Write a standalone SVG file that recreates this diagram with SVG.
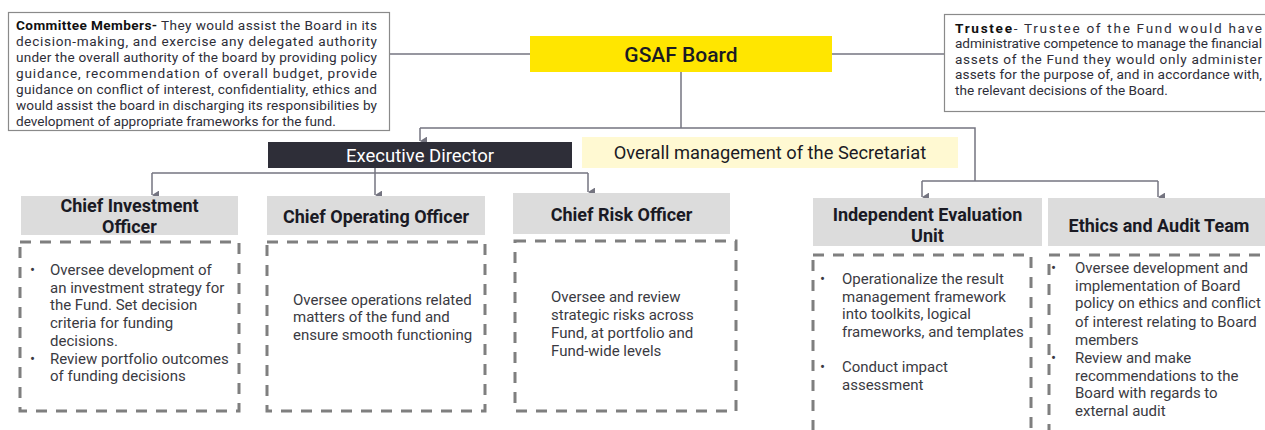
<svg xmlns="http://www.w3.org/2000/svg" width="1265" height="430" viewBox="0 0 1265 430">
<defs>
<marker id="arr" viewBox="0 0 10 8" refX="5" refY="8" markerWidth="9" markerHeight="7" orient="auto-start-reverse" markerUnits="userSpaceOnUse">
<path d="M0,0 L10,0 L5,8 Z" fill="#747480"/>
</marker>
<style>
.bg{fill:#fff}
.note{fill:#fff;stroke:#8a8a8a;stroke-width:1.2}
.ntxt{font-family:Roboto,"Liberation Sans",sans-serif;font-size:13.6px;fill:#2e2e38}
.nb{font-weight:bold;fill:#111}
.hdr{fill:#dcdcdc}
.htxt{font-family:Roboto,"Liberation Sans",sans-serif;font-size:18px;font-weight:bold;fill:#1a1a24;text-anchor:middle}
.dash{fill:none;stroke:#7f7f7f;stroke-width:3;stroke-dasharray:11 9}
.btxt{font-family:Roboto,"Liberation Sans",sans-serif;font-size:15px;fill:#3a3a42}
.conn{fill:none;stroke:#747480;stroke-width:1.5}
</style>
</defs>
<rect class="bg" x="0" y="0" width="1265" height="430"/>

<g id="connectors">
<path class="conn" d="M390,54 H530"/>
<path class="conn" d="M832,54 H944"/>
<path class="conn" d="M681,72 V128"/>
<path class="conn" d="M420,128 H975 V181"/>
<path class="conn" d="M420,128 V141" marker-end="url(#arr)"/>
<path class="conn" d="M922,181 H1158"/>
<path class="conn" d="M922,181 V197" marker-end="url(#arr)"/>
<path class="conn" d="M1158,181 V197" marker-end="url(#arr)"/>
<path class="conn" d="M375,168 V195" marker-end="url(#arr)"/>
<path class="conn" d="M152,173 H588"/>
<path class="conn" d="M152,173 V195" marker-end="url(#arr)"/>
<path class="conn" d="M588,173 V192" marker-end="url(#arr)"/>
</g>

<g id="committee">
<rect class="note" x="8.5" y="12.5" width="381" height="118"/>
<text class="ntxt" x="16" y="29.5" textLength="361" lengthAdjust="spacing"><tspan class="nb">Committee Members-</tspan> They would assist the Board in its</text>
<text class="ntxt" x="16" y="45.5" textLength="361" lengthAdjust="spacing">decision-making, and exercise any delegated authority</text>
<text class="ntxt" x="16" y="61.5" textLength="361" lengthAdjust="spacing">under the overall authority of the board by providing policy</text>
<text class="ntxt" x="16" y="77.5" textLength="361" lengthAdjust="spacing">guidance, recommendation of overall budget, provide</text>
<text class="ntxt" x="16" y="93.5" textLength="361" lengthAdjust="spacing">guidance on conflict of interest, confidentiality, ethics and</text>
<text class="ntxt" x="16" y="109.5" textLength="361" lengthAdjust="spacing">would assist the board in discharging its responsibilities by</text>
<text class="ntxt" x="16" y="125.5">development of appropriate frameworks for the fund.</text>
</g>

<g id="trustee">
<rect class="note" x="944.5" y="14.5" width="330" height="97"/>
<text class="ntxt" x="955" y="32.5" textLength="307" lengthAdjust="spacing"><tspan class="nb">Trustee</tspan>- Trustee of the Fund would have</text>
<text class="ntxt" x="955" y="48" textLength="307" lengthAdjust="spacing">administrative competence to manage the financial</text>
<text class="ntxt" x="955" y="63.5" textLength="307" lengthAdjust="spacing">assets of the Fund they would only administer</text>
<text class="ntxt" x="955" y="79" textLength="307" lengthAdjust="spacing">assets for the purpose of, and in accordance with,</text>
<text class="ntxt" x="955" y="94.5">the relevant decisions of the Board.</text>
</g>

<g id="board">
<rect x="530" y="36" width="302" height="36" fill="#ffe600"/>
<text x="681" y="62" text-anchor="middle" font-family="Roboto,'Liberation Sans',sans-serif" font-size="21" font-weight="500" fill="#1a1a24">GSAF Board</text>
</g>

<g id="executive-director">
<rect x="268" y="142" width="304" height="26" fill="#2e2e38"/>
<text x="420" y="161.5" text-anchor="middle" font-family="Roboto,'Liberation Sans',sans-serif" font-size="18.5" fill="#ffffff">Executive Director</text>
</g>

<g id="secretariat">
<rect x="582" y="137" width="376" height="31" fill="#fff9d2"/>
<text x="770" y="159" text-anchor="middle" font-family="Roboto,'Liberation Sans',sans-serif" font-size="18.3" fill="#1a1a24">Overall management of the Secretariat</text>
</g>

<g id="cio">
<rect class="hdr" x="21" y="196" width="217" height="39"/>
<text class="htxt" x="129.5" y="211.5">Chief Investment</text>
<text class="htxt" x="129.5" y="233">Officer</text>
<rect class="dash" x="20" y="242" width="219" height="169"/>
<text class="btxt"><tspan x="30" y="275">•</tspan><tspan x="50" y="275">Oversee development of</tspan><tspan x="50" y="293">an investment strategy for</tspan><tspan x="50" y="310">the Fund. Set decision</tspan><tspan x="50" y="328">criteria for funding</tspan><tspan x="50" y="346">decisions.</tspan><tspan x="30" y="364">•</tspan><tspan x="50" y="364">Review portfolio outcomes</tspan><tspan x="50" y="381">of funding decisions</tspan></text>
</g>

<g id="coo">
<rect class="hdr" x="267" y="196" width="218" height="39"/>
<text class="htxt" x="376" y="222.5">Chief Operating Officer</text>
<rect class="dash" x="267" y="242" width="218" height="169"/>
<text class="btxt"><tspan x="293" y="305">Oversee operations related</tspan><tspan x="293" y="322">matters of the fund and</tspan><tspan x="293" y="340">ensure smooth functioning</tspan></text>
</g>

<g id="cro">
<rect class="hdr" x="513" y="193" width="217" height="41"/>
<text class="htxt" x="621.5" y="220.5">Chief Risk Officer</text>
<rect class="dash" x="515" y="241" width="221" height="170"/>
<text class="btxt"><tspan x="551" y="302">Oversee and review</tspan><tspan x="551" y="320">strategic risks across</tspan><tspan x="551" y="338">Fund, at portfolio and</tspan><tspan x="551" y="356">Fund-wide levels</tspan></text>
</g>

<g id="ieu">
<rect class="hdr" x="813" y="198" width="229" height="48"/>
<text class="htxt" x="927.5" y="221">Independent Evaluation</text>
<text class="htxt" x="927.5" y="242">Unit</text>
<rect class="dash" x="813" y="255" width="218" height="190"/>
<text class="btxt"><tspan x="820" y="284">•</tspan><tspan x="842" y="284">Operationalize the result</tspan><tspan x="842" y="302">management framework</tspan><tspan x="842" y="319">into toolkits, logical</tspan><tspan x="842" y="337">frameworks, and templates</tspan><tspan x="820" y="372">•</tspan><tspan x="842" y="372">Conduct impact</tspan><tspan x="842" y="390">assessment</tspan></text>
</g>

<g id="ethics">
<rect class="hdr" x="1048" y="198" width="230" height="48"/>
<text class="htxt" x="1159" y="231.5">Ethics and Audit Team</text>
<rect class="dash" x="1049" y="255" width="230" height="190"/>
<text class="btxt"><tspan x="1051" y="273">•</tspan><tspan x="1075" y="273">Oversee development and</tspan><tspan x="1075" y="291">implementation of Board</tspan><tspan x="1075" y="308">policy on ethics and conflict</tspan><tspan x="1075" y="327">of interest relating to Board</tspan><tspan x="1075" y="345">members</tspan><tspan x="1051" y="363">•</tspan><tspan x="1075" y="363">Review and make</tspan><tspan x="1075" y="381">recommendations to the</tspan><tspan x="1075" y="398">Board with regards to</tspan><tspan x="1075" y="416">external audit</tspan></text>
</g>
</svg>
